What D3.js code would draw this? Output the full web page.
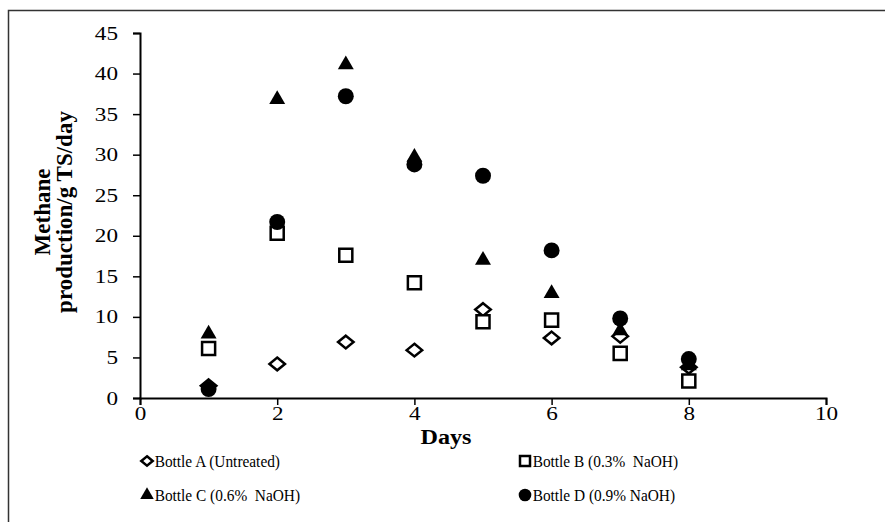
<!DOCTYPE html>
<html>
<head>
<meta charset="utf-8">
<script src="https://cdn.jsdelivr.net/npm/d3@7"></script>
<style>
  body { margin: 0; background: #fff; }
  text { font-family: "Liberation Serif", "Times New Roman", serif; fill: #000; }
</style>
</head>
<body>
<div id="chart"></div>
<script>
// values
const days = [1, 2, 3, 4, 5, 6, 7, 8];
const bottleA = [1.5, 4.2, 6.9, 5.9, 10.9, 7.4, 7.6, 3.8];
const bottleB = [6.1, 20.3, 17.6, 14.2, 9.4, 9.6, 5.5, 2.1];
const bottleC = [7.9, 36.8, 41.1, 29.7, 17.0, 12.9, 8.3, 4.0];
const bottleD = [1.1, 21.7, 37.2, 28.8, 27.4, 18.2, 9.8, 4.8];
const seriesNames = ["Bottle A (Untreated)", "Bottle B (0.3%  NaOH)", "Bottle C (0.6%  NaOH)", "Bottle D (0.9% NaOH)"];
const xTicks = [0, 2, 4, 6, 8, 10];
const yTicks = [0, 5, 10, 15, 20, 25, 30, 35, 40, 45];

const W = 885, H = 522;
const svg = d3.select('#chart').append('svg')
  .attr('width', W).attr('height', H);

// outer frame (runs off the right and bottom edge)
svg.append('rect')
  .attr('x', 8.5).attr('y', 10.5)
  .attr('width', 900).attr('height', 540)
  .attr('fill', 'none').attr('stroke', '#333').attr('stroke-width', 1.5);

const x = d3.scaleLinear().domain([0, 10]).range([140, 826]);
const y = d3.scaleLinear().domain([0, 45]).range([398, 33]);

const stretch = 1.22; // the tick numbers look widened in the original

const xAxis = svg.append('g')
  .attr('transform', 'translate(0,' + y(0) + ')')
  .call(d3.axisBottom(x).tickValues(xTicks).tickSize(7).tickPadding(2).tickFormat(d3.format('d')));
const yAxis = svg.append('g')
  .attr('transform', 'translate(' + x(0) + ',0)')
  .call(d3.axisLeft(y).tickValues(yTicks).tickSize(7).tickPadding(9).tickFormat(d3.format('d')));

[xAxis, yAxis].forEach(function (g) {
  g.select('.domain').attr('stroke', '#000').attr('stroke-width', 2);
  g.selectAll('.tick line').attr('stroke', '#000').attr('stroke-width', 1.5);
  g.selectAll('.tick text')
    .style('font-family', '"Liberation Serif", serif')
    .style('font-size', '19px').attr('fill', '#000');
});
xAxis.selectAll('.tick text').attr('transform', 'scale(' + stretch + ',1)');
yAxis.selectAll('.tick text')
  .attr('x', 0)
  .attr('transform', 'translate(-22,0) scale(' + stretch + ',1)');

// axis titles
svg.append('text')
  .attr('transform', 'translate(446,444) scale(1.15,1)')
  .attr('text-anchor', 'middle')
  .style('font-size', '21px').style('font-weight', 'bold')
  .text('Days');

const yl = svg.append('text')
  .attr('transform', 'translate(0,212) rotate(-90)')
  .attr('text-anchor', 'middle')
  .style('font-size', '23px').style('font-weight', 'bold');
yl.append('tspan').attr('x', 0).attr('y', 50).text('Methane');
yl.append('tspan').attr('x', 0).attr('y', 72).text('production/g TS/day');

// marker shapes
const flatDiamond = {
  draw: function (ctx, size) {
    const r = Math.sqrt(size) / 2;
    ctx.moveTo(0, -r * 0.82);
    ctx.lineTo(r, 0);
    ctx.lineTo(0, r * 0.82);
    ctx.lineTo(-r, 0);
    ctx.closePath();
  }
};
const types = { A: flatDiamond, B: d3.symbolSquare, C: d3.symbolTriangle, D: d3.symbolCircle };
const styles = [
  { key: 'A', fill: '#fff', stroke: '#000', sw: 2.5, size: 240, legSize: 130 },
  { key: 'B', fill: '#fff', stroke: '#000', sw: 2.5, size: 170, legSize: 100 },
  { key: 'C', fill: '#000', stroke: 'none', sw: 0, size: 110, legSize: 80 },
  { key: 'D', fill: '#000', stroke: 'none', sw: 0, size: 200, legSize: 125 }
];
const allSeries = [bottleA, bottleB, bottleC, bottleD];

allSeries.forEach(function (vals, i) {
  const st = styles[i];
  svg.append('g').selectAll('path')
    .data(days.map(function (d, j) { return { day: d, v: vals[j] }; }))
    .join('path')
    .attr('d', d3.symbol().type(types[st.key]).size(st.size)())
    .attr('transform', function (d) {
      return 'translate(' + x(d.day) + ',' + y(d.v) + ')';
    })
    .attr('fill', st.fill)
    .attr('stroke', st.stroke)
    .attr('stroke-width', st.sw);
});

// legend
const legPos = [[147, 461], [525, 461], [147, 495], [525, 495]];
seriesNames.forEach(function (name, i) {
  const st = styles[i];
  const g = svg.append('g').attr('transform', 'translate(' + legPos[i][0] + ',' + legPos[i][1] + ')');
  g.append('path')
    .attr('d', d3.symbol().type(types[st.key]).size(st.legSize)())
    .attr('fill', st.fill).attr('stroke', st.stroke).attr('stroke-width', st.sw);
  g.append('text')
    .attr('x', 8).attr('y', 6)
    .style('font-size', '16px')
    .style('white-space', 'pre')
    .attr('transform', 'scale(0.96,1)')
    .text(name);
});
</script>
</body>
</html>
